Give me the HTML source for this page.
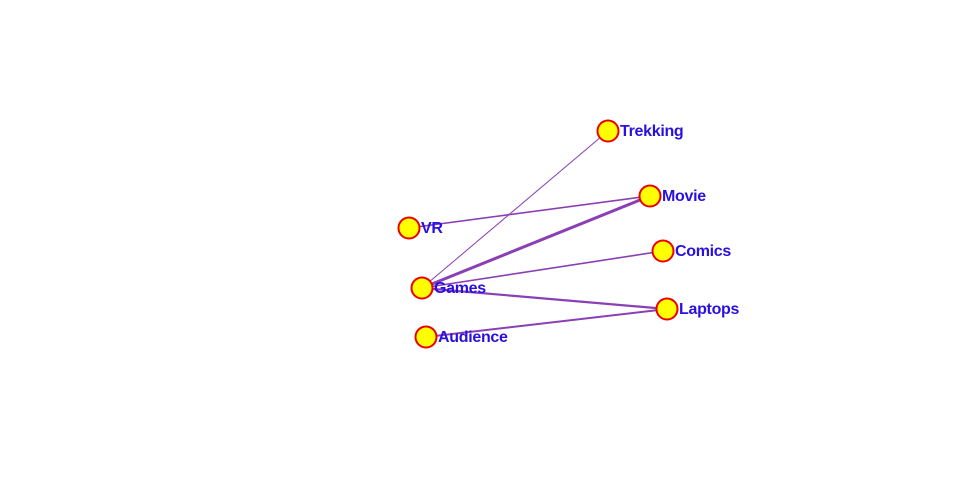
<!DOCTYPE html>
<html><head><meta charset="utf-8"><style>html,body{margin:0;padding:0;background:#fff;}svg{display:block}</style></head>
<body>
<svg width="960" height="500" xmlns="http://www.w3.org/2000/svg">
<g stroke="#8a3fb5" fill="none">
<line x1="422" y1="288" x2="608" y2="131" stroke-width="1"/>
<line x1="409" y1="228" x2="650" y2="196" stroke-width="1.6"/>
<line x1="422" y1="288" x2="650" y2="196" stroke-width="3"/>
<line x1="422" y1="288" x2="663" y2="251" stroke-width="1.6"/>
<line x1="422" y1="288" x2="667" y2="309" stroke-width="2.2"/>
<line x1="426" y1="337" x2="667" y2="309" stroke-width="2"/>
</g>
<g fill="#ffff00" stroke="#ee0000" stroke-width="2">
<circle cx="608" cy="131" r="10.5"/>
<circle cx="650" cy="196" r="10.5"/>
<circle cx="409" cy="228" r="10.5"/>
<circle cx="663" cy="251" r="10.5"/>
<circle cx="422" cy="288" r="10.5"/>
<circle cx="667" cy="309" r="10.5"/>
<circle cx="426" cy="337" r="10.5"/>
</g>
<g fill="#2a10e0" font-family="Liberation Sans, sans-serif" font-size="16" font-weight="bold" letter-spacing="-0.3">
<text x="620" y="136">Trekking</text>
<text x="662" y="201">Movie</text>
<text x="421" y="233">VR</text>
<text x="675" y="256">Comics</text>
<text x="434" y="293">Games</text>
<text x="679" y="314">Laptops</text>
<text x="438" y="342">Audience</text>
</g>
</svg>
</body></html>
